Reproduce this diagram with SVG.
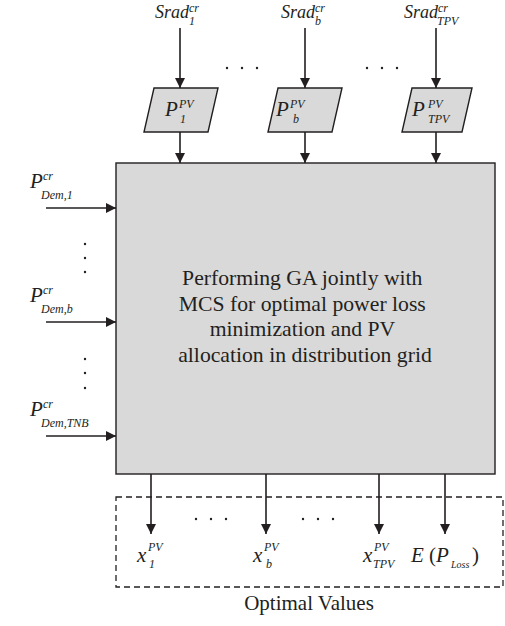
<svg xmlns="http://www.w3.org/2000/svg" width="505" height="626" viewBox="0 0 505 626">
<defs>
<style>
text{font-family:'Liberation Serif','DejaVu Serif',serif;fill:#231f20}
.i{font-style:italic}
.big{font-size:21px}
.sm{font-size:12px}
.ln{stroke:#231f20;stroke-width:1.6;fill:none}
.box{fill:#d9d9d9;stroke:#231f20;stroke-width:1.4}
.dot{fill:#231f20}
</style>
<marker id="ah" markerUnits="userSpaceOnUse" markerWidth="10" markerHeight="12" viewBox="0 0 10 12" refX="10" refY="6" orient="auto">
<path d="M0,1 L10,6 L0,11 Z" fill="#231f20"/>
</marker>
</defs>
<rect width="505" height="626" fill="#fff"/>

<g id="connectors">
<line class="ln" x1="180" y1="28" x2="180" y2="88" marker-end="url(#ah)"/>
<line class="ln" x1="305" y1="28" x2="305" y2="88" marker-end="url(#ah)"/>
<line class="ln" x1="436" y1="28" x2="436" y2="88" marker-end="url(#ah)"/>
<line class="ln" x1="180" y1="132" x2="180" y2="163" marker-end="url(#ah)"/>
<line class="ln" x1="305" y1="132" x2="305" y2="163" marker-end="url(#ah)"/>
<line class="ln" x1="436" y1="132" x2="436" y2="163" marker-end="url(#ah)"/>
<line class="ln" x1="46" y1="208" x2="116" y2="208" marker-end="url(#ah)"/>
<line class="ln" x1="46" y1="322" x2="116" y2="322" marker-end="url(#ah)"/>
<line class="ln" x1="46" y1="436" x2="116" y2="436" marker-end="url(#ah)"/>
<line class="ln" x1="151" y1="474" x2="151" y2="534" marker-end="url(#ah)"/>
<line class="ln" x1="266" y1="474" x2="266" y2="534" marker-end="url(#ah)"/>
<line class="ln" x1="379" y1="474" x2="379" y2="534" marker-end="url(#ah)"/>
<line class="ln" x1="445" y1="474" x2="445" y2="534" marker-end="url(#ah)"/>
</g>

<g id="dots">
<circle class="dot" cx="227" cy="68" r="1.2"/><circle class="dot" cx="242" cy="68" r="1.2"/><circle class="dot" cx="257" cy="68" r="1.2"/>
<circle class="dot" cx="367" cy="68" r="1.2"/><circle class="dot" cx="382" cy="68" r="1.2"/><circle class="dot" cx="397" cy="68" r="1.2"/>
<circle class="dot" cx="85" cy="244" r="1.2"/><circle class="dot" cx="85" cy="258" r="1.2"/><circle class="dot" cx="85" cy="272" r="1.2"/>
<circle class="dot" cx="85" cy="359" r="1.2"/><circle class="dot" cx="85" cy="373" r="1.2"/><circle class="dot" cx="85" cy="388" r="1.2"/>
<circle class="dot" cx="196" cy="519" r="1.2"/><circle class="dot" cx="211" cy="519" r="1.2"/><circle class="dot" cx="226" cy="519" r="1.2"/>
<circle class="dot" cx="303" cy="519" r="1.2"/><circle class="dot" cx="318" cy="519" r="1.2"/><circle class="dot" cx="333" cy="519" r="1.2"/>
</g>

<g id="srad1">
<text class="i" x="155" y="18" font-size="18">Srad</text>
<text class="i sm" x="189" y="12">cr</text>
<text class="i sm" x="189" y="25">1</text>
</g>
<g id="sradb">
<text class="i" x="281" y="18" font-size="18">Srad</text>
<text class="i sm" x="315" y="12">cr</text>
<text class="i sm" x="315" y="25">b</text>
</g>
<g id="sradTPV">
<text class="i" x="404" y="18" font-size="18">Srad</text>
<text class="i sm" x="438" y="12">cr</text>
<text class="i sm" x="437" y="25">TPV</text>
</g>

<g id="pv1">
<polygon class="box" points="154,88 218,88 208,132 144,132"/>
<text class="i big" x="165" y="116">P</text>
<text class="i sm" x="179" y="108">PV</text>
<text class="i sm" x="180" y="123">1</text>
</g>
<g id="pvb">
<polygon class="box" points="278,88 342,88 332,132 268,132"/>
<text class="i big" x="276" y="116">P</text>
<text class="i sm" x="290" y="108">PV</text>
<text class="i sm" x="293" y="123">b</text>
</g>
<g id="pvTPV">
<polygon class="box" points="412,88 472,88 462,132 402,132"/>
<text class="i big" x="412" y="116">P</text>
<text class="i sm" x="428" y="108">PV</text>
<text class="i sm" x="428" y="123">TPV</text>
</g>

<g id="main">
<rect class="box" x="116" y="163" width="379" height="311"/>
<text font-size="21.7" text-anchor="middle">
<tspan x="305" y="285">Performing GA jointly with</tspan>
<tspan x="305" y="311">MCS for optimal power loss</tspan>
<tspan x="305" y="336">minimization and PV</tspan>
<tspan x="305" y="362">allocation in distribution grid</tspan>
</text>
</g>

<g id="pdem1">
<text class="i big" x="30" y="188">P</text>
<text class="i sm" x="43" y="180">cr</text>
<text class="i sm" x="41" y="199">Dem,1</text>
</g>
<g id="pdemb">
<text class="i big" x="30" y="302">P</text>
<text class="i sm" x="43" y="294">cr</text>
<text class="i sm" x="41" y="313">Dem,b</text>
</g>
<g id="pdemTNB">
<text class="i big" x="30" y="416">P</text>
<text class="i sm" x="43" y="408">cr</text>
<text class="i sm" x="41" y="427">Dem,TNB</text>
</g>

<g id="optimal">
<rect x="116" y="497" width="387" height="90" fill="none" stroke="#231f20" stroke-width="1.3" stroke-dasharray="6,4"/>
<text class="i big" x="137" y="562">x</text>
<text class="i sm" x="148" y="551">PV</text>
<text class="i sm" x="149" y="568">1</text>
<text class="i big" x="253" y="562">x</text>
<text class="i sm" x="264" y="551">PV</text>
<text class="i sm" x="266" y="568">b</text>
<text class="i big" x="363" y="562">x</text>
<text class="i sm" x="374" y="551">PV</text>
<text class="i sm" x="373" y="568">TPV</text>
<text class="i big" x="411" y="562">E</text>
<text class="big" x="429" y="562">(</text>
<text class="i big" x="436" y="562">P</text>
<text class="i" font-size="10" x="451" y="568">Loss</text>
<text class="big" x="472" y="562">)</text>
<text font-size="21" x="309" y="610" text-anchor="middle">Optimal Values</text>
</g>
</svg>
